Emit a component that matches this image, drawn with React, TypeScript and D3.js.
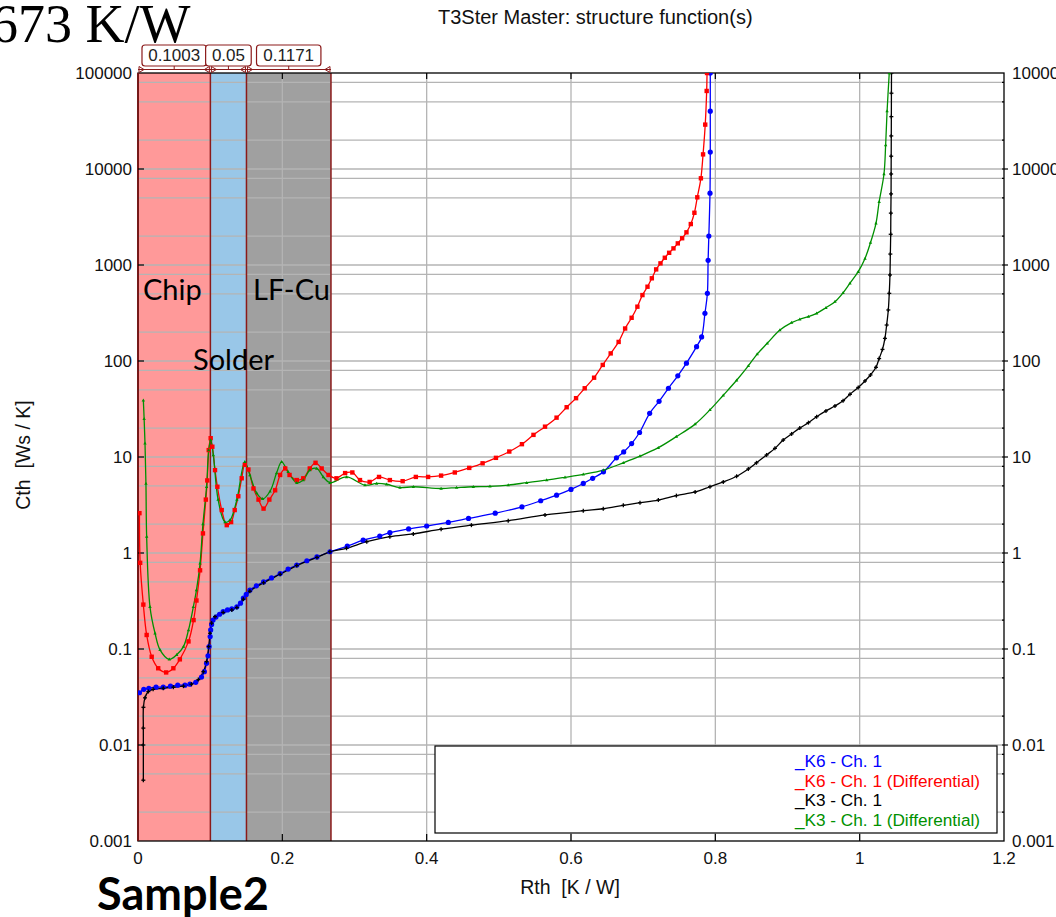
import React from "react";
import * as d3 from "d3";

type Pt = [number, number];

// Rth [K/W], Cth [Ws/K]
const k6Cum: Pt[] = [
  [0.002, 0.035], [0.008, 0.038], [0.015, 0.039], [0.025, 0.04], [0.035, 0.04], [0.045, 0.041],
  [0.055, 0.042], [0.065, 0.042], [0.072, 0.043], [0.08, 0.045], [0.088, 0.051], [0.092, 0.058],
  [0.095, 0.071], [0.097, 0.085], [0.0985, 0.106], [0.1, 0.135], [0.1007, 0.158], [0.102, 0.18],
  [0.104, 0.2], [0.108, 0.215], [0.113, 0.23], [0.118, 0.245], [0.124, 0.255], [0.13, 0.262],
  [0.137, 0.275], [0.142, 0.3], [0.146, 0.34], [0.15, 0.37], [0.155, 0.41], [0.164, 0.455],
  [0.174, 0.5], [0.185, 0.55], [0.197, 0.61], [0.208, 0.68], [0.22, 0.75], [0.234, 0.83],
  [0.248, 0.91], [0.266, 1.03], [0.29, 1.18], [0.312, 1.36], [0.335, 1.5], [0.349, 1.63],
  [0.375, 1.78], [0.4, 1.91], [0.43, 2.08], [0.458, 2.29], [0.495, 2.6], [0.532, 3.02],
  [0.558, 3.5], [0.58, 4.0], [0.6, 4.6], [0.617, 5.3], [0.63, 6.0], [0.645, 7.0], [0.663, 9.8],
  [0.673, 11.3], [0.684, 13.8], [0.695, 18], [0.709, 28.5], [0.722, 38], [0.735, 52], [0.748, 70],
  [0.76, 95], [0.774, 141], [0.781, 178], [0.7856, 314], [0.789, 507], [0.79, 1120], [0.791, 2000],
  [0.7926, 5600], [0.793, 15000], [0.793, 40000], [0.793, 100000],
];

const k6Diff: Pt[] = [
  [0.002, 2.6], [0.003, 0.79], [0.0074, 0.29], [0.012, 0.14], [0.019, 0.083], [0.028, 0.063],
  [0.039, 0.057], [0.049, 0.063], [0.058, 0.078], [0.07, 0.12], [0.077, 0.2], [0.081, 0.32],
  [0.086, 0.66], [0.09, 1.6], [0.094, 3.6], [0.096, 5.7], [0.098, 11.8], [0.1007, 15.7],
  [0.103, 12.8], [0.1067, 7.3], [0.11, 4.9], [0.116, 2.8], [0.123, 1.95], [0.129, 2.1],
  [0.134, 2.8], [0.139, 3.9], [0.1437, 6.0], [0.148, 8.3], [0.153, 7.4], [0.16, 4.7],
  [0.167, 3.6], [0.174, 2.9], [0.182, 3.6], [0.19, 4.5], [0.197, 6.5], [0.204, 7.6], [0.21, 6.5],
  [0.22, 5.75], [0.229, 6.0], [0.238, 7.6], [0.246, 8.7], [0.2545, 7.6], [0.264, 6.5],
  [0.275, 6.0], [0.287, 6.8], [0.297, 6.9], [0.3076, 5.75], [0.321, 5.5], [0.334, 6.2],
  [0.349, 5.75], [0.3667, 5.6], [0.385, 6.2], [0.402, 6.2], [0.42, 6.4], [0.439, 6.9],
  [0.459, 7.7], [0.4775, 8.6], [0.496, 9.8], [0.5145, 11.4], [0.532, 13.6], [0.548, 17],
  [0.564, 20.7], [0.58, 25.7], [0.594, 33], [0.607, 41], [0.619, 52], [0.632, 67], [0.644, 91],
  [0.655, 120], [0.666, 158], [0.675, 218], [0.684, 282], [0.692, 368], [0.699, 486],
  [0.706, 594], [0.712, 727], [0.718, 900], [0.724, 1040], [0.73, 1190], [0.736, 1340],
  [0.742, 1490], [0.748, 1680], [0.754, 1900], [0.76, 2190], [0.766, 2670], [0.771, 3500],
  [0.775, 5070], [0.78, 8000], [0.783, 14200], [0.786, 29000], [0.788, 65000], [0.7885, 100000],
];

const k3Cum: Pt[] = [
  [0.0074, 0.0043], [0.0074, 0.01], [0.0074, 0.015], [0.0075, 0.0247], [0.0097, 0.031],
  [0.0143, 0.036], [0.021, 0.038], [0.035, 0.039], [0.049, 0.04], [0.063, 0.041], [0.074, 0.043],
  [0.0836, 0.048], [0.0905, 0.058], [0.095, 0.074], [0.098, 0.106], [0.0998, 0.146],
  [0.102, 0.186], [0.1067, 0.217], [0.118, 0.24], [0.13, 0.255], [0.137, 0.27], [0.146, 0.33],
  [0.155, 0.4], [0.174, 0.49], [0.197, 0.6], [0.22, 0.74], [0.248, 0.9], [0.266, 1.03],
  [0.289, 1.12], [0.317, 1.31], [0.349, 1.48], [0.3815, 1.58], [0.42, 1.77], [0.462, 1.95],
  [0.513, 2.17], [0.564, 2.49], [0.617, 2.76], [0.6447, 2.89], [0.6725, 3.14], [0.6956, 3.34],
  [0.721, 3.56], [0.746, 3.96], [0.772, 4.32], [0.7926, 4.9], [0.811, 5.5], [0.8295, 6.3],
  [0.8457, 7.5], [0.857, 8.7], [0.871, 10.5], [0.8826, 12.3], [0.894, 15], [0.9057, 17.4],
  [0.917, 20], [0.929, 22.8], [0.9404, 26.3], [0.9533, 30.2], [0.9658, 34], [0.977, 38.6],
  [0.9866, 45], [0.998, 53], [1.0074, 62], [1.015, 71.5], [1.0226, 86], [1.027, 106],
  [1.0316, 132], [1.035, 172], [1.0374, 237], [1.0397, 340], [1.041, 507], [1.042, 787],
  [1.0425, 1300], [1.043, 2090], [1.0432, 3470], [1.0435, 5500], [1.0436, 8870],
  [1.0437, 13600], [1.0438, 22100], [1.0439, 35100], [1.044, 61600], [1.0441, 100000],
];

const k3Diff: Pt[] = [
  [0.0074, 39], [0.0085, 25], [0.0097, 13.9], [0.011, 5.3], [0.012, 1.48], [0.0166, 0.275],
  [0.0236, 0.146], [0.0305, 0.098], [0.0434, 0.078], [0.0536, 0.087], [0.063, 0.106],
  [0.07, 0.158], [0.0767, 0.275], [0.081, 0.41], [0.086, 0.78], [0.09, 2.0], [0.095, 4.9],
  [0.098, 11.8], [0.1007, 15], [0.1044, 10.5], [0.111, 3.6], [0.1205, 2.1], [0.1275, 2.2],
  [0.137, 3.6], [0.148, 8.9], [0.155, 6.5], [0.1645, 4.2], [0.1727, 3.66], [0.183, 4.4],
  [0.192, 6.8], [0.199, 8.9], [0.208, 7.0], [0.22, 5.4], [0.229, 5.75], [0.238, 7.3],
  [0.2476, 7.6], [0.2568, 6.2], [0.266, 5.4], [0.289, 6.2], [0.3145, 5.1], [0.3307, 5.3],
  [0.3446, 5.2], [0.363, 4.8], [0.3815, 4.9], [0.42, 4.7], [0.4415, 4.8], [0.4646, 4.9],
  [0.4877, 4.95], [0.513, 5.1], [0.5386, 5.4], [0.5663, 5.75], [0.5917, 6.15], [0.617, 6.6],
  [0.645, 7.3], [0.6725, 8.7], [0.6956, 10.2], [0.721, 12.5], [0.746, 16.3], [0.772, 22],
  [0.7926, 31], [0.811, 44], [0.8295, 63], [0.8457, 89], [0.858, 118], [0.872, 153],
  [0.8895, 210], [0.9057, 251], [0.917, 272], [0.929, 290], [0.9404, 314], [0.9533, 359],
  [0.9658, 415], [0.977, 513], [0.9866, 646], [0.998, 852], [1.0074, 1170], [1.015, 1710],
  [1.0226, 2720], [1.027, 4560], [1.0337, 8870], [1.036, 17800], [1.038, 40200], [1.041, 100000],
];

const layerNames = ["Chip", "Solder", "LF-Cu"];
const layerBounds = [0, 0.1003, 0.1503, 0.2674];
const layerWidthLabels = ["0.1003", "0.05", "0.1171"];
const layerColors = ["#ff9999", "#99c7e8", "#a0a0a0"];

const xTicks = [0, 0.2, 0.4, 0.6, 0.8, 1, 1.2];
const xTickLabels = ["0", "0.2", "0.4", "0.6", "0.8", "1", "1.2"];
const yDecades = [0.001, 0.01, 0.1, 1, 10, 100, 1000, 10000, 100000];
const yDecadeLabels = ["0.001", "0.01", "0.1", "1", "10", "100", "1000", "10000", "100000"];
const yGridMultipliers = [1, 2, 5, 8];

const seriesNames = ["_K6 - Ch. 1", "_K6 - Ch. 1 (Differential)", "_K3 - Ch. 1", "_K3 - Ch. 1 (Differential)"];
const seriesColors = ["#0000ff", "#ff0000", "#000000", "#009000"];

const FONT = "Liberation Sans, Arial, sans-serif";

export default function App() {
  const W = 1056, H = 917;
  const x = d3.scaleLinear().domain([0, 1.2]).range([138, 1004]);
  const y = d3.scaleLog().domain([0.001, 100000]).range([841, 73]);
  const [x0, x1] = x.range();
  const [yb, yt] = y.range();

  const line = d3.line<Pt>().x((d) => x(d[0])).y((d) => y(d[1])).curve(d3.curveCatmullRom.alpha(0.5));

  const gridY: number[] = [];
  for (let k = -3; k <= 4; k++) {
    for (const m of yGridMultipliers) {
      const v = m * Math.pow(10, k);
      if (v > 0.001 * 1.0001 && v < 100000 * 0.9999) gridY.push(v);
    }
  }

  const series = [k6Cum, k6Diff, k3Cum, k3Diff];

  const marker = (i: number, d: Pt, j: number) => {
    const cx = x(d[0]), cy = y(d[1]);
    const c = seriesColors[i];
    if (i === 0) return <circle key={j} cx={cx} cy={cy} r={2.6} fill={c} />;
    if (i === 1) return <rect key={j} x={cx - 2.2} y={cy - 2.2} width={4.4} height={4.4} fill={c} />;
    if (i === 2)
      return (
        <g key={j} stroke={c} strokeWidth={1.3}>
          <line x1={cx - 2} x2={cx + 2} y1={cy} y2={cy} />
          <line x1={cx} x2={cx} y1={cy - 2} y2={cy + 2} />
        </g>
      );
    return <path key={j} d={`M${cx},${cy - 1.8}L${cx + 1.7},${cy + 1.2}L${cx - 1.7},${cy + 1.2}Z`} fill={c} />;
  };

  const drk = "#8b1a1a";

  return (
    <div style={{ position: "absolute", left: 0, top: 0 }}>
      <svg width={W} height={H} style={{ display: "block", background: "#fff" }}>
        <defs>
          <clipPath id="plot">
            <rect x={x0} y={yt} width={x1 - x0} height={yb - yt} />
          </clipPath>
        </defs>

        {/* layer fills */}
        {layerNames.map((n, i) => (
          <rect key={n} x={x(layerBounds[i])} y={yt} width={x(layerBounds[i + 1]) - x(layerBounds[i])} height={yb - yt} fill={layerColors[i]} />
        ))}

        {/* grid */}
        <g stroke="#b4b4b4" strokeWidth={1.3}>
          {gridY.map((v) => (
            <line key={v} x1={x0} x2={x1} y1={y(v)} y2={y(v)} />
          ))}
          {xTicks.slice(1, -1).map((t) => (
            <line key={t} x1={x(t)} x2={x(t)} y1={yt} y2={yb} />
          ))}
        </g>

        {/* layer borders */}
        <g stroke={drk} strokeWidth={1.5}>
          {layerBounds.map((b) => (
            <line key={b} x1={x(b)} x2={x(b)} y1={yt} y2={yb} />
          ))}
        </g>

        {/* layer names */}
        <g fontFamily="Lato, Calibri, sans-serif" fontSize={29} fill="#000">
          <text x={143} y={300}>{layerNames[0]}</text>
          <text x={193} y={370}>{layerNames[1]}</text>
          <text x={253} y={300}>{layerNames[2]}</text>
        </g>

        {/* frame */}
        <rect x={x0} y={yt} width={x1 - x0} height={yb - yt} fill="none" stroke="#000" strokeWidth={1.3} />
        <line x1={x0} x2={x0} y1={yt} y2={yb} stroke={drk} strokeWidth={1.5} />

        {/* ticks */}
        <g stroke="#000" strokeWidth={1.2}>
          {xTicks.slice(1, -1).map((t) => (
            <g key={t}>
              <line x1={x(t)} x2={x(t)} y1={yt} y2={yt + 6} />
              <line x1={x(t)} x2={x(t)} y1={yb} y2={yb - 7} />
            </g>
          ))}
          {yDecades.slice(1, -1).map((v) => (
            <g key={v}>
              <line x1={x0} x2={x0 + 6} y1={y(v)} y2={y(v)} />
              <line x1={x1} x2={x1 + 4} y1={y(v)} y2={y(v)} />
            </g>
          ))}
          {gridY.map((v) => (
            <line key={"m" + v} x1={x1 - 2} x2={x1} y1={y(v)} y2={y(v)} />
          ))}
        </g>

        {/* curves */}
        <g clipPath="url(#plot)">
          {series.map((s, i) => (
            <path key={i} d={line(s) || ""} fill="none" stroke={seriesColors[i]} strokeWidth={1.3} />
          ))}
          {series.map((s, i) => (
            <g key={"mk" + i}>{s.map((d, j) => marker(i, d, j))}</g>
          ))}
        </g>

        {/* layer width annotations */}
        <g>
          <line x1={x(layerBounds[0])} x2={x(layerBounds[3])} y1={69.5} y2={69.5} stroke={drk} strokeWidth={1.2} />
          {layerWidthLabels.map((lab, i) => {
            const a = x(layerBounds[i]), b = x(layerBounds[i + 1]);
            const m = (a + b) / 2;
            const w = lab.length * 9.4 + 8;
            return (
              <g key={lab}>
                <path d={`M${a + 1},66.5L${a + 6},69.5L${a + 1},72.5Z`} fill="none" stroke={drk} strokeWidth={1} />
                <path d={`M${b - 1},66.5L${b - 6},69.5L${b - 1},72.5Z`} fill="none" stroke={drk} strokeWidth={1} />
                <line x1={m} x2={m} y1={66} y2={69.5} stroke={drk} strokeWidth={1} />
                <rect x={m - w / 2} y={45} width={w} height={21} rx={3} fill="#fff" stroke={drk} strokeWidth={1.2} />
                <text x={m} y={61} textAnchor="middle" fontFamily={FONT} fontSize={17} fill="#222">{lab}</text>
              </g>
            );
          })}
        </g>

        {/* tick labels */}
        <g fontFamily={FONT} fontSize={17} fill="#111">
          {yDecades.map((v, i) => (
            <text key={"l" + v} x={132} y={y(v) + 6} textAnchor="end">{yDecadeLabels[i]}</text>
          ))}
          {yDecades.map((v, i) => (
            <text key={"r" + v} x={1012} y={y(v) + 6}>{yDecadeLabels[i]}</text>
          ))}
          {xTicks.map((t, i) => (
            <text key={"x" + t} x={x(t)} y={864} textAnchor="middle">{xTickLabels[i]}</text>
          ))}
        </g>

        {/* axis titles */}
        <text x={570} y={894} textAnchor="middle" fontFamily={FONT} fontSize={19.5} fill="#111" style={{ whiteSpace: "pre" }}>
          {"Rth  [K / W]"}
        </text>
        <text transform="translate(30,455) rotate(-90)" textAnchor="middle" fontFamily={FONT} fontSize={19.5} fill="#111" style={{ whiteSpace: "pre" }}>
          {"Cth  [Ws / K]"}
        </text>
        <text x={438} y={24} fontFamily={FONT} fontSize={20} fill="#111">T3Ster Master: structure function(s)</text>

        {/* legend */}
        <rect x={435} y={746} width={562} height={87} fill="#fff" stroke="#000" strokeWidth={1.2} />
        <g fontFamily={FONT} fontSize={17.2}>
          {seriesNames.map((n, i) => (
            <text key={n} x={795} y={767 + i * 19.5} fill={seriesColors[i]}>{n}</text>
          ))}
        </g>

        {/* extra annotations */}
        <text x={-9} y={42} fontFamily="Liberation Serif, Times New Roman, serif" fontSize={54} fill="#000">673 K/W</text>
        <text x={97} y={910} fontFamily="Lato, Calibri, sans-serif" fontWeight={700} fontSize={45} fill="#000">Sample2</text>
      </svg>
    </div>
  );
}
